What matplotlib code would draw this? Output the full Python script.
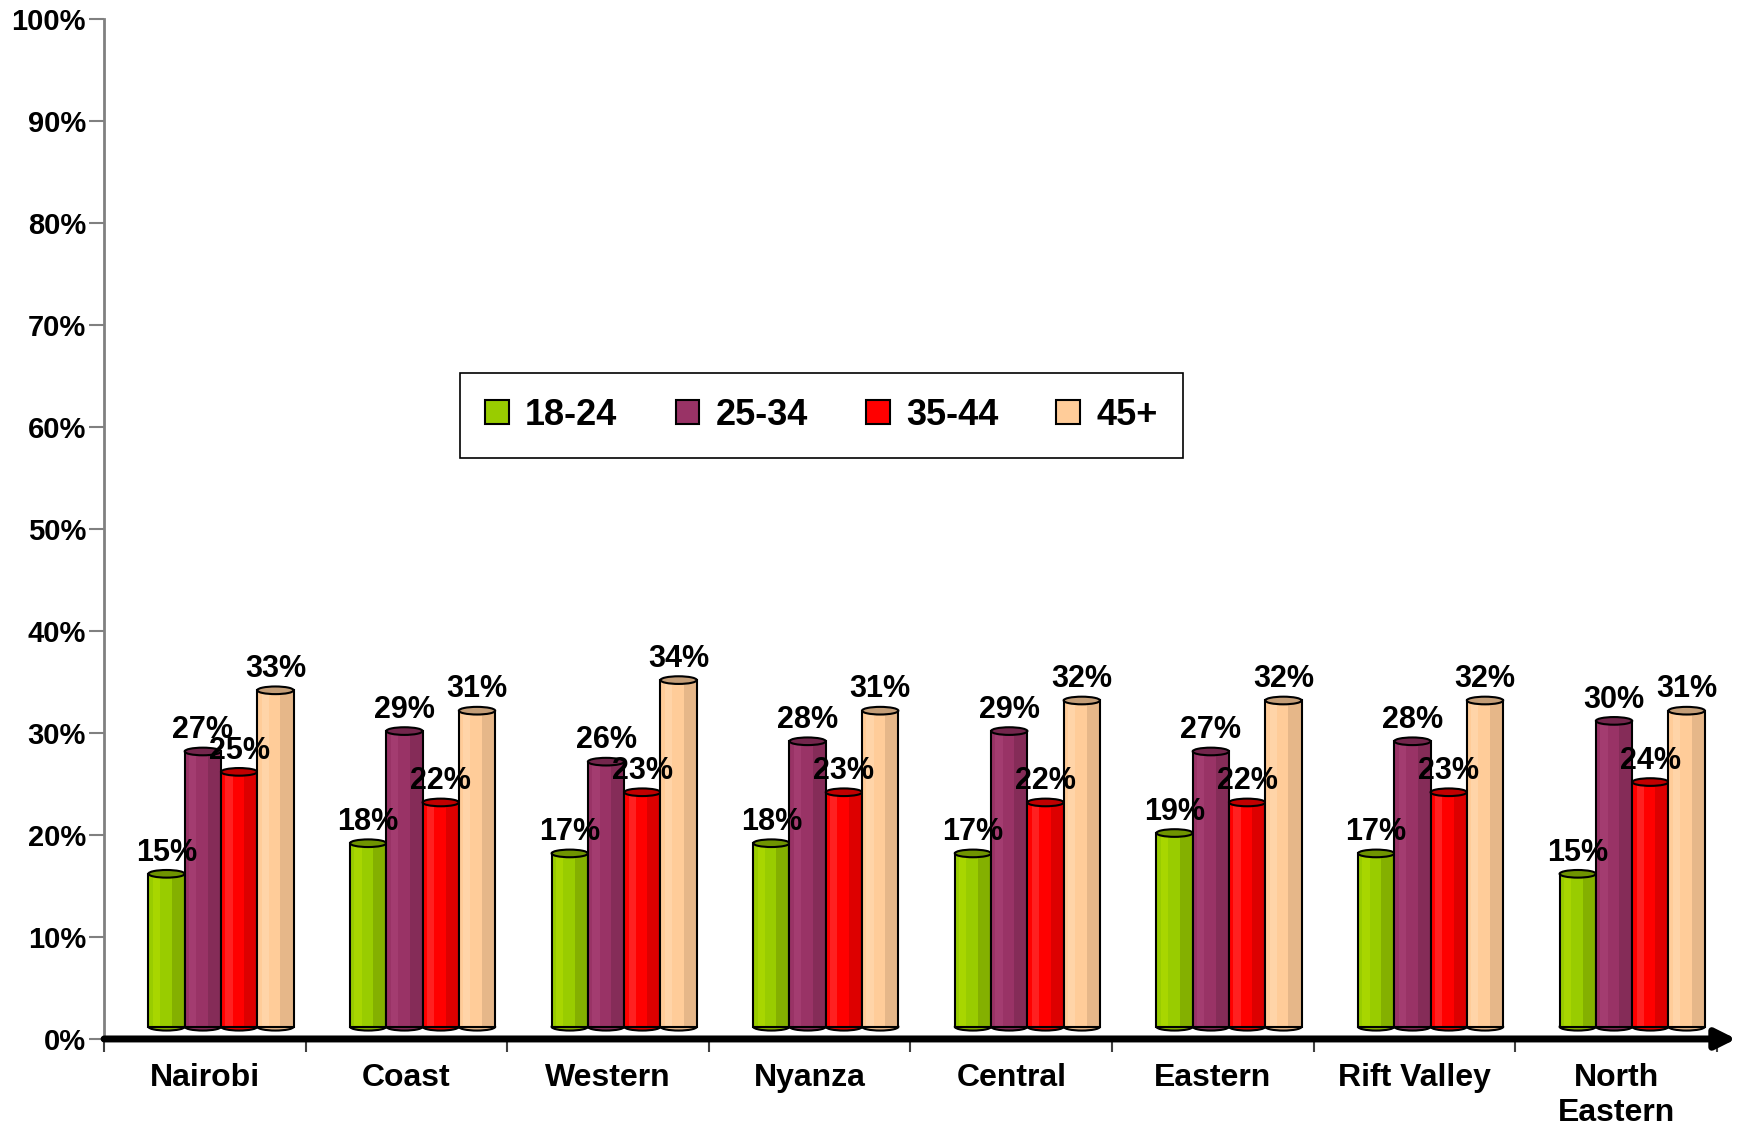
import numpy as np
import matplotlib.pyplot as plt
from matplotlib.patches import Ellipse, Patch
from matplotlib import font_manager

# ======== Data ========
regions = ["Nairobi", "Coast", "Western", "Nyanza", "Central", "Eastern",
           "Rift Valley", "North\nEastern"]
age_groups = ["18-24", "25-34", "35-44", "45+"]
share_18_24 = [15, 18, 17, 18, 17, 19, 17, 15]
share_25_34 = [27, 29, 26, 28, 29, 27, 28, 30]
share_35_44 = [25, 22, 23, 23, 22, 22, 23, 24]
share_45_plus = [33, 31, 34, 31, 32, 32, 32, 31]
series = [share_18_24, share_25_34, share_35_44, share_45_plus]

# body, light strip, dark strip, top
colors = [
    ("#99CC00", "#A8D600", "#84B000", "#6F9400"),
    ("#993366", "#A33C70", "#852C58", "#73264C"),
    ("#FF0000", "#FF2020", "#DD0000", "#C00000"),
    ("#FFCC99", "#FFD4A8", "#E6B789", "#C49E78"),
]

names = {f.name for f in font_manager.fontManager.ttflist}
base_font = "Liberation Sans" if "Liberation Sans" in names else "DejaVu Sans"
narrow_font = "Liberation Sans Narrow" if "Liberation Sans Narrow" in names else base_font
plt.rcParams["font.family"] = [base_font, "DejaVu Sans"]
plt.rcParams["font.weight"] = "bold"

fig = plt.figure(figsize=(17.43, 11.33), dpi=100)
ax = fig.add_axes([0.0597, 0.083, 0.9253, 0.8998])

x = np.arange(len(regions))
width = 0.18
offsets = [-0.19, -0.01, 0.17, 0.35]
base = 1.2
top_h = 0.75

for k, vals in enumerate(series):
    body, light, dark, top = colors[k]
    pos = x + offsets[k]
    for xi, v in zip(pos, vals):
        # rounded bottom
        ax.add_patch(Ellipse((xi, base), width, top_h, facecolor=dark,
                             edgecolor="black", lw=1.5, zorder=2 + k * 0.1))
        ax.bar(xi, v, width=width, bottom=base, color=body, lw=0,
               zorder=2.01 + k * 0.1)
        ax.bar(xi - width * 0.28, v, width=width * 0.2, bottom=base,
               color=light, lw=0, zorder=2.02 + k * 0.1)
        ax.bar(xi + width * 0.32, v, width=width * 0.36, bottom=base,
               color=dark, lw=0, zorder=2.02 + k * 0.1)
        ax.bar(xi, v, width=width, bottom=base, fill=False,
               edgecolor="black", lw=1.5, zorder=2.03 + k * 0.1)
        ax.add_patch(Ellipse((xi, base + v), width, top_h, facecolor=top,
                             edgecolor="black", lw=1.5, zorder=2.04 + k * 0.1))
        ax.text(xi, base + v + 1.3, f"{v}%", ha="center", va="baseline",
                fontsize=22, fontweight="bold", zorder=5)

ax.set_xlim(-0.5, len(regions) - 0.5)
ax.set_ylim(0, 100)

ax.set_yticks(np.arange(0, 101, 10))
ax.set_yticklabels([f"{t}%" for t in range(0, 101, 10)], fontsize=21,
                   fontweight="bold")
ax.tick_params(axis="y", length=11, width=1.5, color="#808080", pad=2)

ax.set_xticks(x)
ax.set_xticklabels(regions, fontsize=23, fontweight="bold", linespacing=1.25)
ax.set_xticks(np.arange(-0.5, len(regions)), minor=True)
ax.tick_params(axis="x", which="major", length=0, pad=17)
ax.tick_params(axis="x", which="minor", length=9, width=1.5, color="#404040")

for s in ["top", "right", "bottom"]:
    ax.spines[s].set_visible(False)
ax.spines["left"].set_color("#808080")
ax.spines["left"].set_linewidth(2)

ax.annotate("", xy=(1.012, 0), xytext=(0, 0), xycoords="axes fraction",
            arrowprops=dict(arrowstyle="-|>", lw=5, color="black",
                            mutation_scale=30, shrinkA=0, shrinkB=0),
            annotation_clip=False, zorder=6)

handles = [Patch(facecolor=c[0], edgecolor="black", lw=1.5) for c in colors]
leg = fig.legend(handles, age_groups, loc="center", ncol=4, mode="expand",
                 bbox_to_anchor=(0.2535, 0.5949, 0.4355, 0.0768),
                 bbox_transform=fig.transFigure,
                 prop={"family": [narrow_font, "DejaVu Sans"], "weight": "bold",
                       "size": 26},
                 handlelength=0.65, handleheight=0.65, handletextpad=0.45,
                 borderpad=0.7, fancybox=False, shadow=False, framealpha=1)
leg.get_frame().set_edgecolor("black")
leg.get_frame().set_linewidth(1.2)

fig.savefig("out.png", dpi=100)
